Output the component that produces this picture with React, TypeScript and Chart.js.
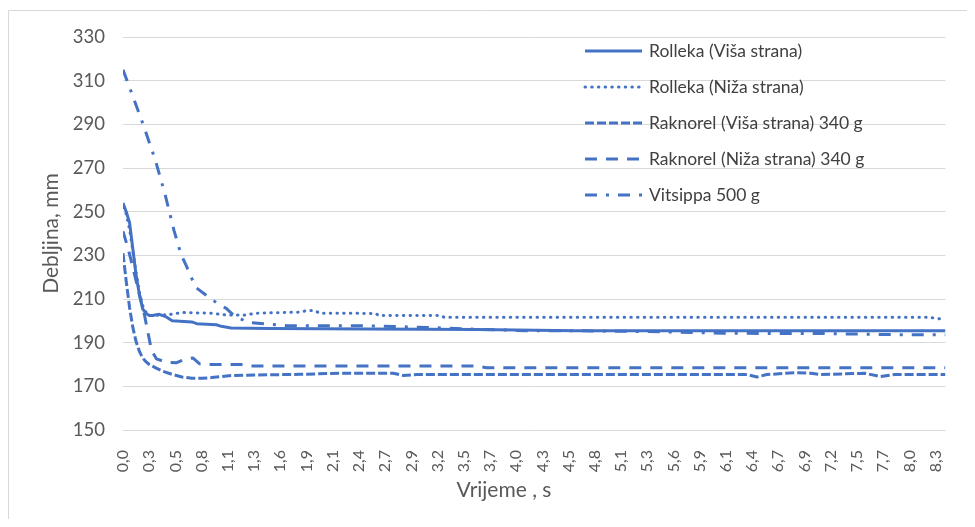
import React, { useEffect, useRef } from "react";
import { Chart, registerables } from "chart.js";

Chart.register(...registerables);

// Time axis: frames at 30 fps, one label every 8 frames
const FPS = 30;
const FRAMES_PER_LABEL = 8;
const LAST_FRAME = 251;
const TICK_LABELS = [
  "0,0", "0,3", "0,5", "0,8", "1,1", "1,3", "1,6", "1,9", "2,1", "2,4", "2,7", "2,9",
  "3,2", "3,5", "3,7", "4,0", "4,3", "4,5", "4,8", "5,1", "5,3", "5,6", "5,9", "6,1",
  "6,4", "6,7", "6,9", "7,2", "7,5", "7,7", "8,0", "8,3",
];

const Y_MIN = 150;
const Y_MAX = 330;
const Y_STEP = 20;

// Rolleka (Viša strana)
const rollekaVisaT = [0, 0.033, 0.067, 0.1, 0.133, 0.167, 0.2, 0.233, 0.267, 0.3, 0.367, 0.433, 0.5, 0.7, 0.75, 0.95, 1.0, 1.1, 1.5, 2.5, 3.6, 4.6, 8.367];
const rollekaVisaY = [254, 250, 245, 233, 221, 212, 205.5, 203.5, 202.5, 202.5, 203, 202, 200, 199.5, 198.7, 198.2, 197.5, 196.7, 196.5, 196.3, 196, 195.5, 195.5];

// Rolleka (Niža strana)
const rollekaNizaT = [0, 0.033, 0.067, 0.1, 0.133, 0.167, 0.2, 0.233, 0.267, 0.3, 0.45, 0.6, 0.9, 1.05, 1.25, 1.35, 1.8, 1.87, 1.95, 2.0, 2.57, 2.6, 3.23, 3.27, 8.2, 8.3, 8.367];
const rollekaNizaY = [252, 249, 242, 232, 222, 213, 207, 204, 202.5, 202.5, 202.8, 203.8, 203.5, 202.7, 202.7, 203.5, 204, 204.7, 204.7, 203.5, 203.4, 202.5, 202.4, 201.6, 201.6, 201, 200.4];

// Raknorel (Viša strana) 340 g
const raknorelVisaT = [0, 0.033, 0.067, 0.1, 0.133, 0.167, 0.2, 0.233, 0.267, 0.333, 0.4, 0.5, 0.6, 0.7, 0.8, 0.9, 1.0, 1.1, 1.8, 2.2, 2.75, 2.85, 3.0, 6.35, 6.45, 6.55, 6.85, 7.0, 7.1, 7.55, 7.7, 7.85, 8.367];
const raknorelVisaY = [231, 218, 206, 197, 190.5, 186, 183, 181.3, 180, 178.5, 177, 175.5, 174.3, 173.7, 173.7, 174, 174.5, 175, 175.5, 176, 176, 175, 175.4, 175.4, 174.3, 175.4, 176.3, 176, 175.4, 176, 174.5, 175.4, 175.4];

// Raknorel (Niža strana) 340 g
const raknorelNizaT = [0, 0.05, 0.1, 0.167, 0.217, 0.25, 0.29, 0.34, 0.44, 0.54, 0.64, 0.71, 0.78, 0.86, 1.2, 1.3, 3.6, 3.7, 8.367];
const raknorelNizaY = [241, 233.5, 224.5, 212, 203, 195.5, 186.5, 182.6, 181, 180.8, 182.6, 183, 180.3, 180, 180, 179.3, 179.3, 178.5, 178.5];

// Vitsippa 500 g
const vitsippaT = [0, 0.083, 0.21, 0.33, 0.43, 0.52, 0.59, 0.64, 0.74, 0.84, 0.96, 1.05, 1.13, 1.27, 1.47, 1.67, 2.4, 2.75, 3.1, 3.5, 4.1, 4.5, 5.5, 6.1, 7.1, 7.8, 8.367];
const vitsippaY = [315, 305, 289.3, 273.5, 257.6, 241.2, 230.5, 225.6, 215.3, 212, 208, 205.7, 202.4, 199.3, 198.6, 197.8, 197.8, 197.4, 197, 196.3, 195.5, 195.5, 195, 194.3, 194.2, 193.7, 193.6];

const SERIES_NAMES = [
  "Rolleka (Viša strana)",
  "Rolleka (Niža strana)",
  "Raknorel (Viša strana) 340 g",
  "Raknorel (Niža strana) 340 g",
  "Vitsippa 500 g",
];

const BLUE = "#4472C4";
const FONT = "Lato, 'Open Sans', sans-serif";

type Style = { dash: number[]; cap: CanvasLineCap };
const STYLES: Style[] = [
  { dash: [], cap: "butt" },
  { dash: [0.5, 6.2], cap: "round" },
  { dash: [9, 3], cap: "butt" },
  { dash: [12, 9], cap: "butt" },
  { dash: [12, 9, 3, 9], cap: "butt" },
];

const pairs = (t: number[], y: number[]) => t.map((x, i) => ({ x, y: y[i] }));

const decorPlugin = {
  id: "decor",
  afterDraw(chart: any) {
    const { ctx, chartArea } = chart;
    const { left, top, right, bottom } = chartArea;
    ctx.save();
    // frame (top & left edges visible)
    ctx.strokeStyle = "#d9d9d9";
    ctx.lineWidth = 1;
    ctx.beginPath();
    ctx.moveTo(0.5, chart.height);
    ctx.lineTo(0.5, 2.5);
    ctx.lineTo(chart.width, 2.5);
    ctx.stroke();

    // axis titles
    ctx.fillStyle = "#595959";
    ctx.font = `21px ${FONT}`;
    ctx.textAlign = "center";
    ctx.textBaseline = "alphabetic";
    ctx.fillText("Vrijeme , s", 496, 489);
    ctx.save();
    ctx.translate(50, (top + bottom) / 2);
    ctx.rotate(-Math.PI / 2);
    ctx.fillText("Debljina, mm", 0, 0);
    ctx.restore();

    // legend
    ctx.font = `17.5px ${FONT}`;
    ctx.textAlign = "left";
    SERIES_NAMES.forEach((name, i) => {
      const y = top + 14 + i * 36;
      const st = STYLES[i];
      ctx.save();
      ctx.strokeStyle = BLUE;
      ctx.lineWidth = 3;
      ctx.lineCap = st.cap;
      ctx.setLineDash(st.dash);
      ctx.beginPath();
      ctx.moveTo(left + 462, y);
      ctx.lineTo(left + 519, y);
      ctx.stroke();
      ctx.restore();
      ctx.fillStyle = "#404040";
      ctx.fillText(name, left + 526, y + 6);
    });
    ctx.restore();
  },
};

export default function App() {
  const ref = useRef<HTMLCanvasElement>(null);
  useEffect(() => {
    if (!ref.current) return;
    const series = [
      pairs(rollekaVisaT, rollekaVisaY),
      pairs(rollekaNizaT, rollekaNizaY),
      pairs(raknorelVisaT, raknorelVisaY),
      pairs(raknorelNizaT, raknorelNizaY),
      pairs(vitsippaT, vitsippaY),
    ];
    const chart = new Chart(ref.current, {
      type: "line",
      data: {
        datasets: series.map((d, i) => ({
          label: SERIES_NAMES[i],
          data: d,
          borderColor: BLUE,
          backgroundColor: BLUE,
          borderWidth: 3,
          borderDash: STYLES[i].dash,
          borderCapStyle: STYLES[i].cap,
          borderJoinStyle: "round",
          pointRadius: 0,
          tension: 0,
          fill: false,
          order: SERIES_NAMES.length - 1 - i,
        })),
      },
      options: {
        animation: false,
        responsive: false,
        devicePixelRatio: 1,
        layout: { padding: { top: 26, right: 15, left: 0, bottom: 0 } },
        plugins: { legend: { display: false }, tooltip: { enabled: false } },
        scales: {
          x: {
            type: "linear",
            min: 0,
            max: LAST_FRAME / FPS,
            afterBuildTicks: (s: any) => {
              s.ticks = TICK_LABELS.map((_, i) => ({ value: (i * FRAMES_PER_LABEL) / FPS }));
            },
            afterFit: (s: any) => {
              s.height = 89;
            },
            grid: { display: false },
            border: { display: false },
            ticks: {
              autoSkip: false,
              maxRotation: 90,
              minRotation: 90,
              padding: 12,
              color: "#595959",
              font: { family: FONT, size: 16 },
              callback: (_v: any, i: number) => TICK_LABELS[i],
            },
          },
          y: {
            min: Y_MIN,
            max: Y_MAX,
            afterFit: (s: any) => {
              s.width = 115;
            },
            grid: { color: "#d9d9d9", lineWidth: 1, drawTicks: false },
            border: { display: false },
            ticks: {
              stepSize: Y_STEP,
              padding: 18,
              color: "#595959",
              font: { family: FONT, size: 18.5 },
            },
          },
        },
      },
      plugins: [decorPlugin],
    });
    return () => chart.destroy();
  }, []);
  return (
    <div style={{ width: 959, height: 511 }}>
      <canvas ref={ref} width={959} height={511} style={{ display: "block" }} />
    </div>
  );
}
